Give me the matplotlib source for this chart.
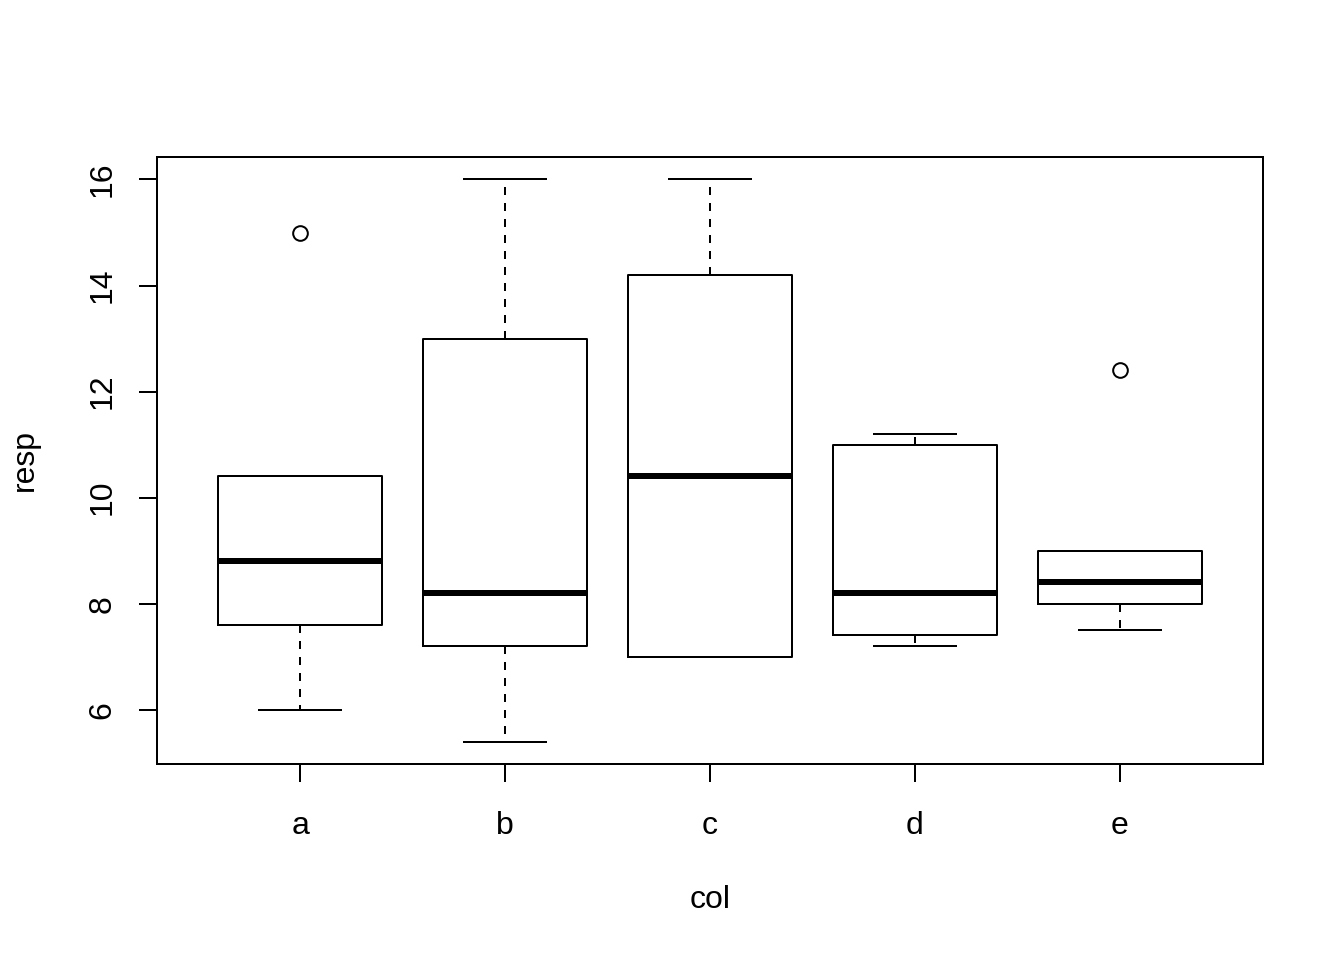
import matplotlib
matplotlib.use("Agg")
import matplotlib.pyplot as plt

plt.rcParams['font.family'] = ['Liberation Sans', 'DejaVu Sans']

groups = ['a', 'b', 'c', 'd', 'e']
whisker_low = [6.0, 5.4, 7.0, 7.2, 7.5]
q1 = [7.6, 7.2, 7.0, 7.4, 8.0]
median = [8.8, 8.2, 10.4, 8.2, 8.4]
q3 = [10.4, 13.0, 14.2, 11.0, 9.0]
whisker_high = [10.4, 16.0, 16.0, 11.2, 9.0]
outliers = [[15.0], [], [], [], [12.4]]

stats = []
for i, g in enumerate(groups):
    stats.append(dict(label=g, whislo=whisker_low[i], q1=q1[i], med=median[i],
                      q3=q3[i], whishi=whisker_high[i], fliers=outliers[i]))

W, H = 1344, 960
fig = plt.figure(figsize=(7, 5), dpi=192)
ax = fig.add_axes([157 / W, 1 - 764 / H, (1263 - 157) / W, (764 - 157) / H])

lw = 0.75
ax.bxp(stats, positions=range(1, 6), widths=0.8,
       boxprops=dict(color='black', linewidth=lw),
       medianprops=dict(color='black', linewidth=2.25, solid_capstyle='butt'),
       whiskerprops=dict(color='black', linewidth=lw, linestyle=(0, (4, 4))),
       capprops=dict(color='black', linewidth=lw),
       capwidths=0.4,
       flierprops=dict(marker='o', markerfacecolor='none', markeredgecolor='black',
                       markersize=5.5, markeredgewidth=lw))

ax.set_xlim(0.3, 5.7)
ax.set_ylim(4.976, 16.424)
ax.set_yticks([6, 8, 10, 12, 14, 16])
ax.set_yticklabels(['6', '8', '10', '12', '14', '16'], rotation=90, va='center')
ax.set_xticks(range(1, 6))
ax.set_xticklabels(groups)
for s in ax.spines.values():
    s.set_linewidth(lw)
ax.tick_params(axis='x', length=6.75, width=lw, labelsize=12, pad=11)
ax.tick_params(axis='y', length=6.75, width=lw, labelsize=12, pad=8)

# axis titles placed like R's mtext lines
fig.text(710 / W, 1 - 900 / H, 'col', fontsize=12, ha='center', va='center')
fig.text(25 / W, 1 - 460 / H, 'resp', fontsize=12, ha='center', va='center', rotation=90)

fig.savefig('out.png', dpi=192)
